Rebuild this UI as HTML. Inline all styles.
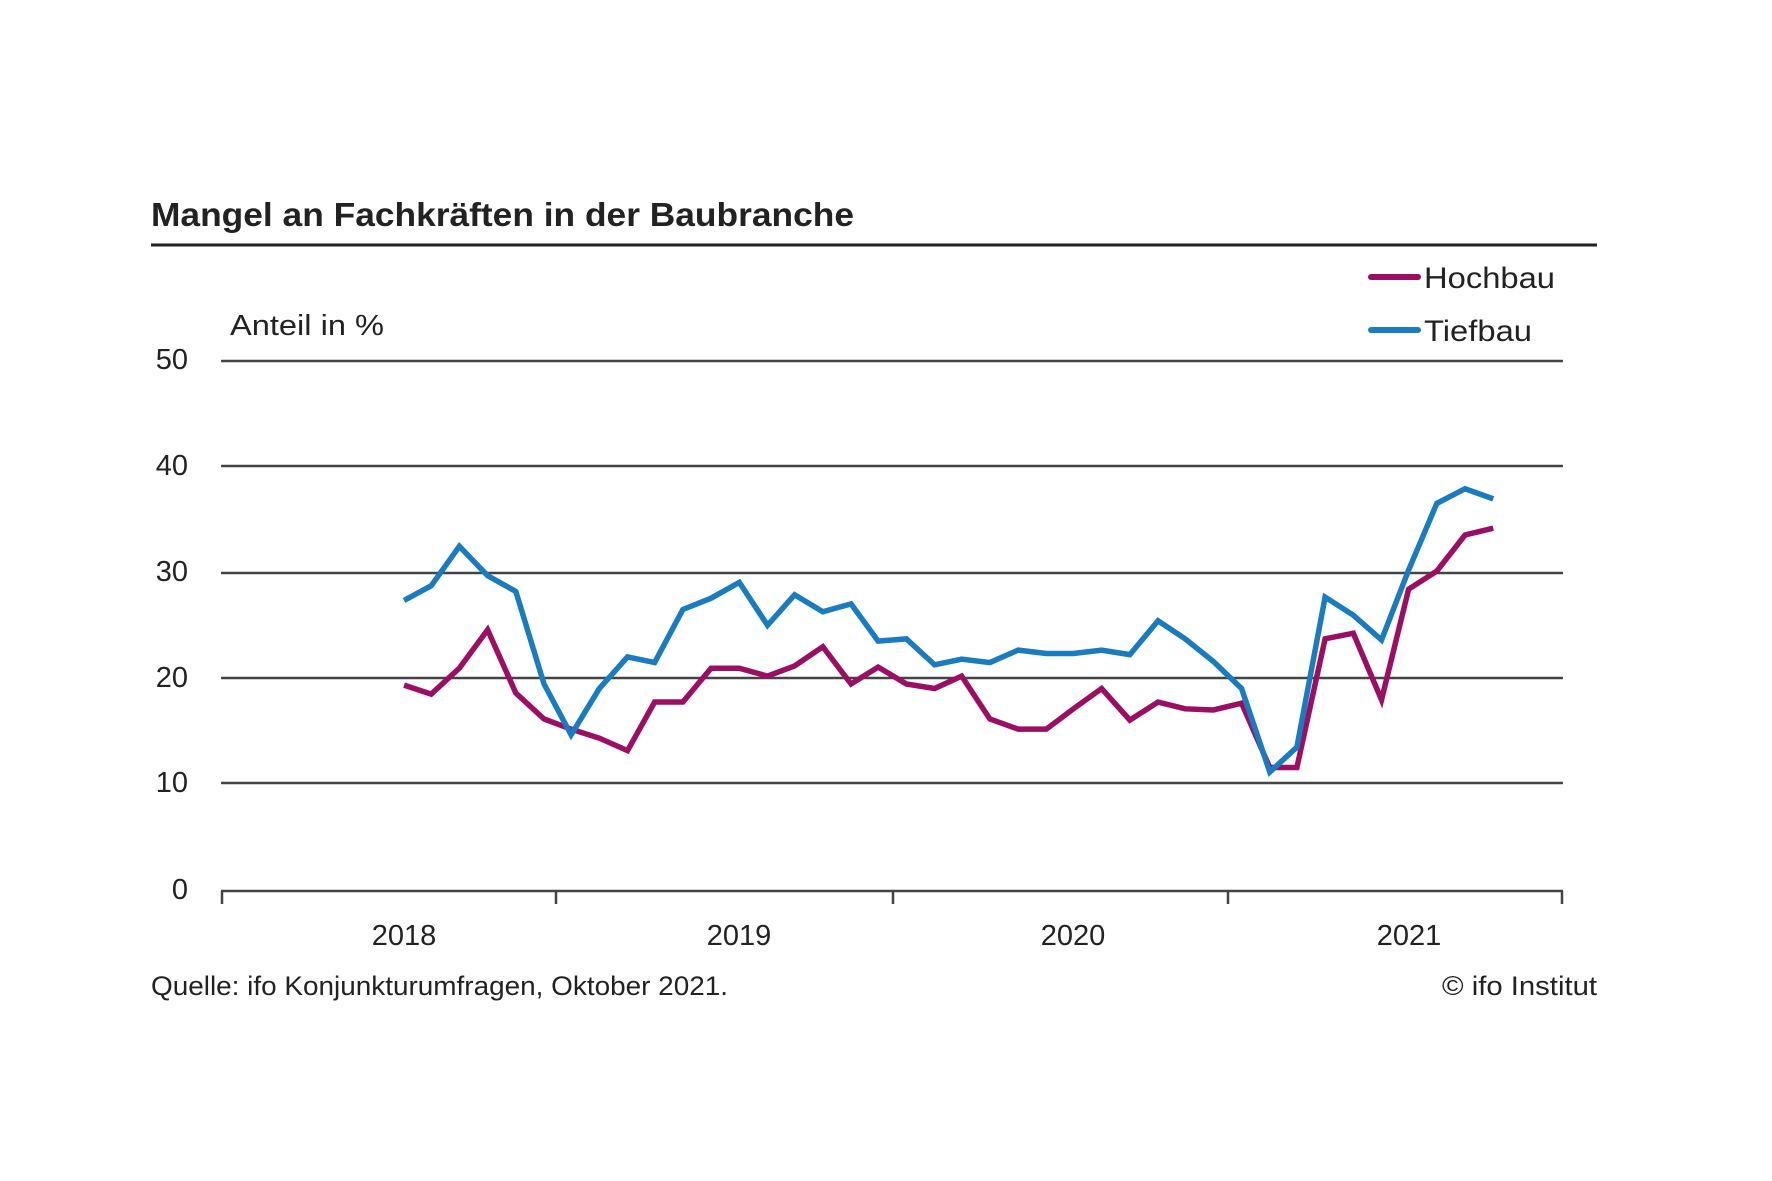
<!DOCTYPE html>
<html><head><meta charset="utf-8"><style>
html,body{margin:0;padding:0;background:#fff;}
svg{display:block;}
text{font-family:"Liberation Sans",sans-serif;fill:#222;}
</style></head><body>
<svg width="1772" height="1181" viewBox="0 0 1772 1181" xmlns="http://www.w3.org/2000/svg">
<text x="151" y="226" font-size="33" font-weight="bold" textLength="703" lengthAdjust="spacingAndGlyphs">Mangel an Fachkräften in der Baubranche</text>
<line x1="151" y1="245" x2="1597" y2="245" stroke="#222" stroke-width="3"/>
<text x="230" y="335" font-size="29" textLength="154" lengthAdjust="spacingAndGlyphs">Anteil in %</text>
<g stroke="#444" stroke-width="2.5">
<line x1="221" y1="361" x2="1563" y2="361"/>
<line x1="221" y1="466" x2="1563" y2="466"/>
<line x1="221" y1="573" x2="1563" y2="573"/>
<line x1="221" y1="678" x2="1563" y2="678"/>
<line x1="221" y1="783" x2="1563" y2="783"/>
<line x1="221" y1="891" x2="1563" y2="891"/>
<line x1="222" y1="891" x2="222" y2="904"/>
<line x1="556" y1="891" x2="556" y2="904"/>
<line x1="893" y1="891" x2="893" y2="904"/>
<line x1="1228" y1="891" x2="1228" y2="904"/>
<line x1="1562" y1="891" x2="1562" y2="904"/>
</g>
<g font-size="29" text-anchor="end">
<text x="188" y="369">50</text>
<text x="188" y="475">40</text>
<text x="188" y="581">30</text>
<text x="188" y="687">20</text>
<text x="188" y="792">10</text>
<text x="188" y="899">0</text>
</g>
<g font-size="29" text-anchor="middle">
<text x="404" y="945">2018</text>
<text x="739" y="945">2019</text>
<text x="1073" y="945">2020</text>
<text x="1409" y="945">2021</text>
</g>
<text x="151" y="995" font-size="27" textLength="577" lengthAdjust="spacingAndGlyphs">Quelle: ifo Konjunkturumfragen, Oktober 2021.</text>
<text x="1597" y="995" font-size="27" text-anchor="end" textLength="155" lengthAdjust="spacingAndGlyphs">© ifo Institut</text>
<line x1="1371" y1="277" x2="1418" y2="277" stroke="#9b0f63" stroke-width="6" stroke-linecap="round"/>
<text x="1424" y="288" font-size="30" textLength="131" lengthAdjust="spacingAndGlyphs">Hochbau</text>
<line x1="1371" y1="330" x2="1418" y2="330" stroke="#1a7bbf" stroke-width="6" stroke-linecap="round"/>
<text x="1424" y="341" font-size="30" textLength="108" lengthAdjust="spacingAndGlyphs">Tiefbau</text>
<g transform="matrix(1.1287 0 0 1.1287 0 0)" fill="none" stroke-linejoin="miter">
<polyline vector-effect="non-scaling-stroke" stroke="#9b0f63" stroke-width="5.5" points="358,607 382,615 407,592 432,558 457,614 482,637 506,646 531,654 556,665 580,622 605,622 630,592 655,592 680,599 704,590 729,573 754,606 778,591 803,606 828,610 852,599 877,637 902,646 927,646 951,628 976,610 1001,638 1026,622 1050,628 1075,629 1100,623 1125,680 1149,680 1174,566 1199,561 1224,620 1248,522 1273,506 1298,474 1323,468"/>
<polyline vector-effect="non-scaling-stroke" stroke="#1a7bbf" stroke-width="5.5" points="358,532 382,519 407,484 432,510 457,524 482,606 506,651 531,610 556,582 580,587 605,540 630,530 655,516 680,554 704,527 729,542 754,535 778,568 803,566 828,589 852,584 877,587 902,576 927,579 951,579 976,576 1001,580 1026,550 1050,566 1075,586 1100,610 1125,684 1149,662 1174,529 1199,545 1224,567 1248,505 1273,446 1298,433 1323,442"/>
</g>
</svg>
</body></html>
